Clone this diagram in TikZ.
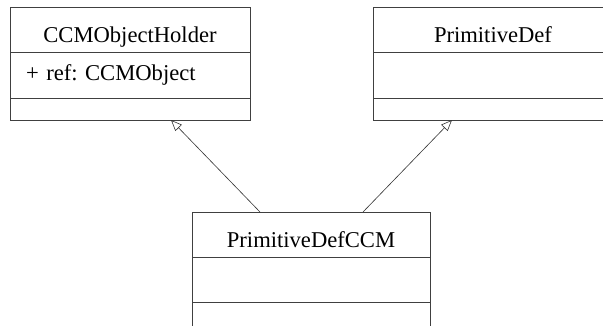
\documentclass[tikz,border=0pt]{standalone}
\usepackage{fontspec}
\setmainfont{Liberation Serif}
\usetikzlibrary{positioning,arrows.meta}

\begin{document}
\frenchspacing
\begin{tikzpicture}[x=1pt, y=1pt,
    classhead/.style={rectangle, draw=black!75, line width=0.9pt, minimum width=240pt, minimum height=45pt, inner ysep=0pt, text height=26pt, text depth=0pt, outer sep=0pt, font=\fontsize{22.6}{26}\selectfont},
    classattr/.style={rectangle, draw=black!75, line width=0.9pt, text width=208pt, inner xsep=16pt, minimum height=46pt, align=left, outer sep=0pt, font=\fontsize{22.6}{26}\selectfont},
    classops/.style={rectangle, draw=black!75, line width=0.9pt, minimum width=240pt, minimum height=22pt, outer sep=0pt},
    inherit/.style={-{Triangle[open, length=11pt, width=9pt]}, line width=0.6pt, draw=black!80}
]
    \clip (0,0) rectangle (603,325);

    \node[classhead] (holder) at (130, 295.5) {CCMObjectHolder};
    \node[classattr, below=0pt of holder] (holderattr) {+ ref: CCMObject};
    \node[classops, below=0pt of holderattr] (holderops) {};

    \node[classhead] (primdef) at (493, 295.5) {PrimitiveDef};
    \node[classattr, below=0pt of primdef] (primdefattr) {};
    \node[classops, below=0pt of primdefattr] (primdefops) {};

    \node[classhead, minimum width=238pt] (primccm) at (311, 90.5) {PrimitiveDefCCM};
    \node[classattr, text width=206pt, minimum height=45pt, below=0pt of primccm] (primccmattr) {};
    \node[classops, minimum width=238pt, minimum height=24pt, below=0pt of primccmattr] (primccmops) {};

    \draw[inherit] ([xshift=-51pt]primccm.north) -- ([xshift=41pt]holderops.south);
    \draw[inherit] ([xshift=52pt]primccm.north) -- ([xshift=-41pt]primdefops.south);
\end{tikzpicture}
\end{document}
